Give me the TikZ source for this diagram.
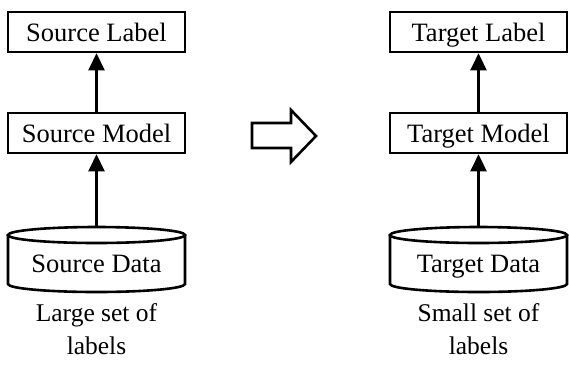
\documentclass[tikz,border=0pt]{standalone}
\usepackage{fontspec}
\setmainfont{Liberation Serif}
\usetikzlibrary{arrows.meta}
\begin{document}
\begin{tikzpicture}[x=1pt,y=-1pt,
  box/.style={draw,line width=2.6pt,minimum width=177pt,minimum height=40pt,inner sep=0pt,text height=19pt,text depth=0pt,font=\fontsize{26.5}{30}\selectfont},
  txt/.style={inner sep=0pt,text height=19pt,text depth=0pt,font=\fontsize{26.5}{30}\selectfont},
  captxt/.style={align=center,font=\fontsize{25.5}{33}\selectfont},
  conn/.style={line width=2.6pt,-{Triangle[width=16pt,length=17pt]}},
  cyl/.style={line width=2.6pt}]
\useasboundingbox (0,0) rectangle (569,376);
% left column
\node[box] (sl) at (96.5,32) {Source Label};
\node[box] (sm) at (96.5,133) {Source Model};
\draw[cyl] (96.5,235) ellipse (88.5 and 8);
\draw[cyl] (8,235) -- (8,284) arc (180:0:88.5 and 8) -- (185,235);
\coordinate (sdt) at (96.5,227);
\node[txt] (sd) at (96.5,262.5) {Source Data};
\draw[conn] (sm.north) -- (sl.south);
\draw[conn] (sdt) -- (sm.south);
\node[captxt] (lc) at (96.5,329) {Large set of\\labels};
% right column
\node[box] (tl) at (478.5,32) {Target Label};
\node[box] (tm) at (478.5,133) {Target Model};
\draw[cyl] (478.5,235) ellipse (88.5 and 8);
\draw[cyl] (390,235) -- (390,284) arc (180:0:88.5 and 8) -- (567,235);
\coordinate (tdt) at (478.5,227);
\node[txt] (td) at (478.5,262.5) {Target Data};
\draw[conn] (tm.north) -- (tl.south);
\draw[conn] (tdt) -- (tm.south);
\node[captxt] (rc) at (478.5,329) {Small set of\\labels};
% block arrow
\draw[line width=2.6pt,line join=miter] (252,123) -- (291,123) -- (291,110) -- (316,136) -- (291,162) -- (291,148) -- (252,148) -- cycle;
\end{tikzpicture}
\end{document}
